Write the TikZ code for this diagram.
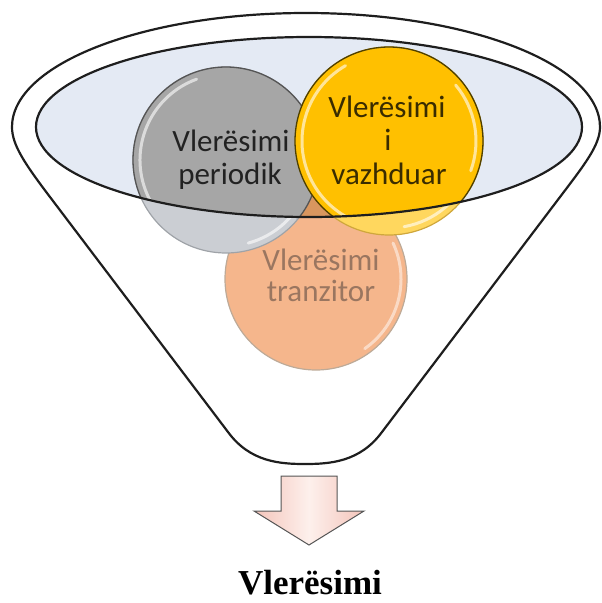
\documentclass[tikz,border=0pt]{standalone}
\usepackage{fontspec}
\setmainfont{Carlito}
\newfontfamily\serifbold{Liberation Serif}
\definecolor{ellfill}{HTML}{E4EAF4}
\definecolor{grayD}{HTML}{A6A6A6}
\definecolor{grayL}{HTML}{CBCED3}
\definecolor{grayB}{HTML}{555555}
\definecolor{grayBL}{HTML}{9FA3A8}
\definecolor{yelD}{HTML}{FFC000}
\definecolor{yelL}{HTML}{FFD75E}
\definecolor{yelB}{HTML}{4F4000}
\definecolor{yelBL}{HTML}{CFA73C}
\definecolor{oraL}{HTML}{F5B68C}
\definecolor{oraD}{HTML}{D9965F}
\definecolor{oraB}{HTML}{BDAA98}
\definecolor{oraT}{HTML}{9A7660}
\definecolor{txtD}{HTML}{222222}
\definecolor{txtY}{HTML}{3A2C00}
\definecolor{arrA}{HTML}{F4C4BA}
\definecolor{arrB}{HTML}{FDF0EC}
\definecolor{lineK}{HTML}{1E1E1E}
\begin{document}
\begin{tikzpicture}[x=1pt,y=-1pt,
  lbl/.style={font=\fontsize{31}{33}\selectfont, inner sep=0pt, anchor=base},
  rim/.style={draw=lineK, line width=2.2pt},
  gloss/.style={draw=white, line width=3pt, opacity=0.6, line cap=round}]
\useasboundingbox (0,0) rectangle (602,603);
% inner ellipse fill
\fill[ellfill] (309,127) ellipse[x radius=273, y radius=90];
% light (outside) layer
\filldraw[fill=oraL, draw=oraB, line width=1.2pt] (316,279) circle[radius=91];
\draw[gloss, opacity=0.5] (316,279) ++(-25:85) arc[start angle=-25, end angle=55, radius=85];
\node[lbl, text=oraT] (o1) at (321,270) {Vlerësimi};
\node[lbl, text=oraT] (o2) at (321,301) {tranzitor};
\filldraw[fill=grayL, draw=grayBL, line width=1.2pt] (226,160) circle[radius=93];
\draw[gloss] (226,160) ++(20:86) arc[start angle=20, end angle=75, radius=86];
\filldraw[fill=yelL, draw=yelBL, line width=1.2pt] (389,141) circle[radius=94];
\draw[gloss] (389,141) ++(20:87) arc[start angle=20, end angle=80, radius=87];
% opaque layer inside the ellipse
\begin{scope}
  \clip (309,127) ellipse[x radius=273, y radius=90];
  \fill[oraD] (316,279) circle[radius=91];
  \filldraw[fill=grayD, draw=grayB, line width=1.3pt] (226,160) circle[radius=93];
  \draw[gloss] (226,160) ++(110:86) arc[start angle=110, end angle=250, radius=86];
  \node[lbl, text=txtD] (g1) at (231,151) {Vlerësimi};
  \node[lbl, text=txtD] (g2) at (230,184) {periodik};
  \filldraw[fill=yelD, draw=yelB, line width=1.3pt] (389,141) circle[radius=94];
  \draw[gloss] (389,141) ++(100:87) arc[start angle=100, end angle=240, radius=87];
  \draw[gloss] (389,141) ++(-40:87) arc[start angle=-40, end angle=20, radius=87];
  \node[lbl, text=txtY] (y1) at (387,117) {Vlerësimi};
  \node[lbl, text=txtY] (y2) at (388,150) {i};
  \node[lbl, text=txtY] (y3) at (389,184) {vazhduar};
\end{scope}
% inner ellipse outline
\draw[rim] (309,127) ellipse[x radius=273, y radius=90];
% outer funnel
\draw[rim, line join=round] (50,197) .. controls (25,164) and (12,145) .. (12,127)
  arc[start angle=180, end angle=360, x radius=294, y radius=114]
  .. controls (600,145) and (585,164) .. (560,197)
  -- (382,432) .. controls (360,462) and (330,464) .. (305,464)
  .. controls (280,464) and (250,462) .. (228,432) -- cycle;
% arrow
\draw[draw=grayB, line width=1pt, line join=miter, left color=arrA, right color=arrA, middle color=arrB]
  (281,476) -- (337,476) -- (337,511) -- (364,511) -- (309,545) -- (254,511) -- (281,511) -- cycle;
% result label
\node[font=\serifbold\bfseries\fontsize{35}{40}\selectfont, inner sep=0pt, anchor=base, text=black] (res) at (310,594) {Vlerësimi};
\end{tikzpicture}
\end{document}
